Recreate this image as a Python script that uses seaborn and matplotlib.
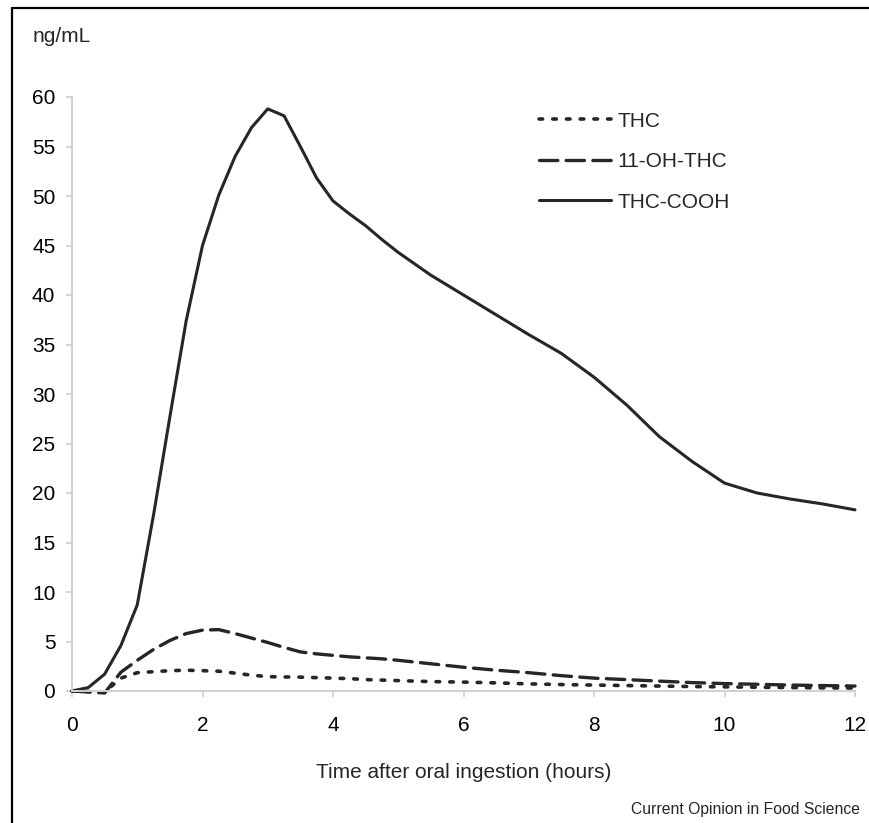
import numpy as np
import pandas as pd
import matplotlib
matplotlib.use('Agg')
import matplotlib.pyplot as plt
from matplotlib.lines import Line2D
import seaborn as sns

# hours after ingestion
hours = [0, 0.25, 0.5, 0.75, 1.0, 1.25, 1.5, 1.75, 2.0, 2.25, 2.5, 2.75, 3.0,
         3.25, 3.5, 3.75, 4.0, 4.25, 4.5, 4.75, 5.0, 5.5, 6.0, 6.5, 7.0, 7.5,
         8.0, 8.5, 9.0, 9.5, 10.0, 10.5, 11.0, 11.5, 12.0]

thc = [0, -0.05, -0.1, 1.3, 1.85, 1.95, 2.05, 2.1, 2.05, 2.0, 1.8, 1.6, 1.45,
       1.42, 1.4, 1.35, 1.3, 1.25, 1.15, 1.1, 1.05, 0.95, 0.9, 0.82, 0.72, 0.65,
       0.6, 0.55, 0.5, 0.45, 0.42, 0.38, 0.35, 0.32, 0.3]

oh_thc = [0, -0.1, -0.2, 1.9, 3.1, 4.2, 5.1, 5.8, 6.15, 6.2, 5.8, 5.35, 4.9,
          4.4, 3.95, 3.75, 3.6, 3.45, 3.35, 3.25, 3.1, 2.75, 2.4, 2.1, 1.85, 1.55,
          1.3, 1.15, 1.0, 0.85, 0.75, 0.68, 0.6, 0.55, 0.5]

thc_cooh = [0, 0.35, 1.7, 4.6, 8.7, 17.8, 27.7, 37.4, 45.0, 50.1, 54.0, 56.9, 58.8,
            58.1, 55.0, 51.8, 49.5, 48.2, 47.0, 45.6, 44.3, 42.0, 40.0, 38.0, 36.0, 34.1,
            31.7, 28.9, 25.7, 23.2, 21.0, 20.0, 19.4, 18.9, 18.3]

series = ['THC', '11-OH-THC', 'THC-COOH']
y_ticks = [0, 5, 10, 15, 20, 25, 30, 35, 40, 45, 50, 55, 60]
x_ticks = [0, 2, 4, 6, 8, 10, 12]

df = pd.DataFrame({
    'hours': hours * 3,
    'conc': thc + oh_thc + thc_cooh,
    'analyte': [s for s in series for _ in hours],
})

sns.set_style('white')
plt.rcParams['font.family'] = ['Liberation Sans', 'DejaVu Sans']

W, H = 869, 823
fig = plt.figure(figsize=(W / 100, H / 100), dpi=100)
ax = fig.add_axes([72 / W, 1 - 691 / H, (855 - 72) / W, (691 - 97) / H])

styles = {'THC': (0, (1, 2.8)), '11-OH-THC': (0, (5.5, 2.5)), 'THC-COOH': '-'}
widths = {'THC': 2.6, '11-OH-THC': 2.4, 'THC-COOH': 2.2}
for name in series:
    sub = df[df['analyte'] == name]
    sns.lineplot(data=sub, x='hours', y='conc', ax=ax, color='#262626',
                 linestyle=styles[name], linewidth=widths[name], label=name,
                 clip_on=False, solid_joinstyle='round', dash_capstyle='round')

ax.set_xlim(0, 12)
ax.set_ylim(0, 60)
ax.set_xticks(x_ticks)
ax.set_yticks(y_ticks)
ax.tick_params(axis='both', labelsize=15, colors='#d0d0d0', labelcolor='black',
               length=4, width=1.2, direction='out', bottom=True, left=True)
ax.tick_params(axis='x', pad=14)
ax.tick_params(axis='y', pad=8)
for side in ['top', 'right']:
    ax.spines[side].set_visible(False)
for side in ['left', 'bottom']:
    ax.spines[side].set_color('#d0d0d0')
    ax.spines[side].set_linewidth(1.4)

ax.set_xlabel('Time after oral ingestion (hours)', fontsize=15, labelpad=20)
ax.set_ylabel('')
fig.text(33 / W, 1 - 42 / H, 'ng/mL', fontsize=15, va='baseline', ha='left')
fig.text(860 / W, 1 - 814 / H, 'Current Opinion in Food Science', fontsize=11.3,
         ha='right', va='baseline')

ax.legend(loc='upper left', bbox_to_anchor=((520 - 72) / 783, 1 - (93 - 97) / 594),
          frameon=False, fontsize=15, handlelength=3.45, handletextpad=0.34,
          labelspacing=1.03)

# frame around the figure (left and top edges)
fig.add_artist(Line2D([12 / W, 12 / W], [0, 1 - 8 / H], color='black', lw=1.6,
                      transform=fig.transFigure))
fig.add_artist(Line2D([12 / W, 1], [1 - 8 / H, 1 - 8 / H], color='black', lw=1.6,
                      transform=fig.transFigure))

fig.savefig('out.png', dpi=100)
